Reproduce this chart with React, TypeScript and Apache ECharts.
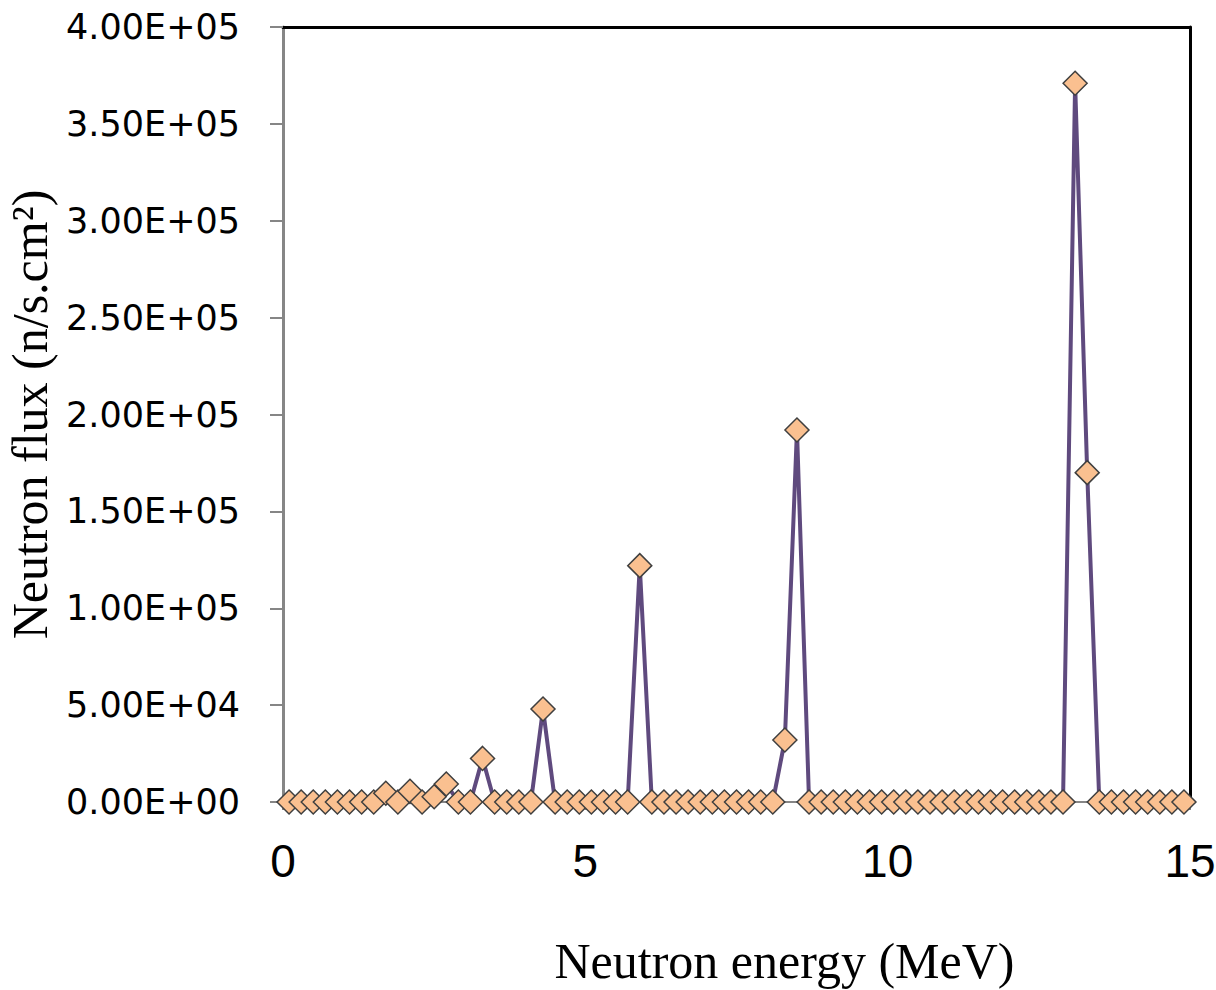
import React, { useEffect, useRef } from "react";
import * as echarts from "echarts";

const energies = [
  0.1, 0.3, 0.5, 0.7, 0.9, 1.1, 1.3, 1.5, 1.7, 1.9,
  2.1, 2.3, 2.5, 2.7, 2.9, 3.1, 3.3, 3.5, 3.7, 3.9,
  4.1, 4.3, 4.5, 4.7, 4.9, 5.1, 5.3, 5.5, 5.7, 5.9,
  6.1, 6.3, 6.5, 6.7, 6.9, 7.1, 7.3, 7.5, 7.7, 7.9,
  8.1, 8.3, 8.5, 8.7, 8.9, 9.1, 9.3, 9.5, 9.7, 9.9,
  10.1, 10.3, 10.5, 10.7, 10.9, 11.1, 11.3, 11.5, 11.7, 11.9,
  12.1, 12.3, 12.5, 12.7, 12.9, 13.1, 13.3, 13.5, 13.7, 13.9,
  14.1, 14.3, 14.5, 14.7, 14.9,
];

const flux = [
  0, 0, 0, 0, 0, 0, 0, 0, 4500, 0,
  5500, 0, 2700, 9300, 0, 0, 22500, 0, 0, 0,
  0, 48000, 0, 0, 0, 0, 0, 0, 0, 122000,
  0, 0, 0, 0, 0, 0, 0, 0, 0, 0,
  0, 32000, 192000, 0, 0, 0, 0, 0, 0, 0,
  0, 0, 0, 0, 0, 0, 0, 0, 0, 0,
  0, 0, 0, 0, 0, 371000, 170000, 0, 0, 0,
  0, 0, 0, 0, 0,
];

const xTitle = "Neutron energy (MeV)";
const yTitle = "Neutron flux (n/s.cm²)";

function sci(v: number): string {
  const [m, e] = v.toExponential(2).split("e");
  const sign = e[0] === "-" ? "-" : "+";
  const digits = e.replace(/[+-]/, "").padStart(2, "0");
  return `${m}E${sign}${digits}`;
}

export default function App() {
  const ref = useRef<HTMLDivElement>(null);
  useEffect(() => {
    if (!ref.current) return;
    const chart = echarts.init(ref.current, undefined, { renderer: "svg" });
    const gray = "#868686";
    chart.setOption({
      animation: false,
      backgroundColor: "#ffffff",
      grid: {
        left: 283,
        right: 26,
        top: 27,
        bottom: 188,
        containLabel: false,
        outerBoundsMode: "none",
      },
      xAxis: [
        {
          type: "value",
          min: 0,
          max: 15,
          interval: 5,
          name: xTitle,
          nameLocation: "middle",
          nameGap: 134,
          nameTextStyle: {
            fontFamily: "Liberation Serif, serif",
            fontSize: 50,
            color: "#000",
            padding: [0, 0, 0, 96],
          },
          axisLine: { show: true, onZero: false, lineStyle: { color: gray, width: 2 } },
          axisTick: { show: true, inside: false, length: 8, lineStyle: { color: gray, width: 2 } },
          axisLabel: {
            margin: 36,
            fontFamily: "Liberation Sans, sans-serif",
            fontSize: 46,
            color: "#000",
          },
          splitLine: { show: false },
        },
        {
          type: "value",
          position: "top",
          min: 0,
          max: 15,
          axisLine: { show: true, onZero: false, lineStyle: { color: "#000", width: 3 } },
          axisTick: { show: false },
          axisLabel: { show: false },
          splitLine: { show: false },
        },
      ],
      yAxis: [
        {
          type: "value",
          min: 0,
          max: 400000,
          interval: 50000,
          name: yTitle,
          nameLocation: "middle",
          nameGap: 223,
          nameRotate: 90,
          nameTextStyle: {
            fontFamily: "Liberation Serif, serif",
            fontSize: 50,
            color: "#000",
          },
          axisLine: { show: true, onZero: false, lineStyle: { color: gray, width: 3 } },
          axisTick: { show: true, inside: false, length: 13, lineStyle: { color: gray, width: 2 } },
          axisLabel: {
            margin: 43,
            fontFamily: "DejaVu Sans, sans-serif",
            fontSize: 35,
            color: "#000",
            formatter: (v: number) => sci(v),
          },
          splitLine: { show: false },
        },
        {
          type: "value",
          position: "right",
          min: 0,
          max: 400000,
          axisLine: { show: true, onZero: false, lineStyle: { color: "#000", width: 3 } },
          axisTick: { show: false },
          axisLabel: { show: false },
          splitLine: { show: false },
        },
      ],
      series: [
        {
          type: "line",
          xAxisIndex: 0,
          yAxisIndex: 0,
          data: energies.map((e, i) => [e, flux[i]]),
          lineStyle: { color: "#5F4A7E", width: 4 },
          symbol: "diamond",
          symbolSize: 24,
          itemStyle: { color: "#FAC090", borderColor: "#3F3F3F", borderWidth: 1.5 },
          z: 3,
        },
      ],
    });
    return () => chart.dispose();
  }, []);
  return (
    <div
      ref={ref}
      style={{ position: "fixed", left: 0, top: 0, width: 1216, height: 990 }}
    />
  );
}
